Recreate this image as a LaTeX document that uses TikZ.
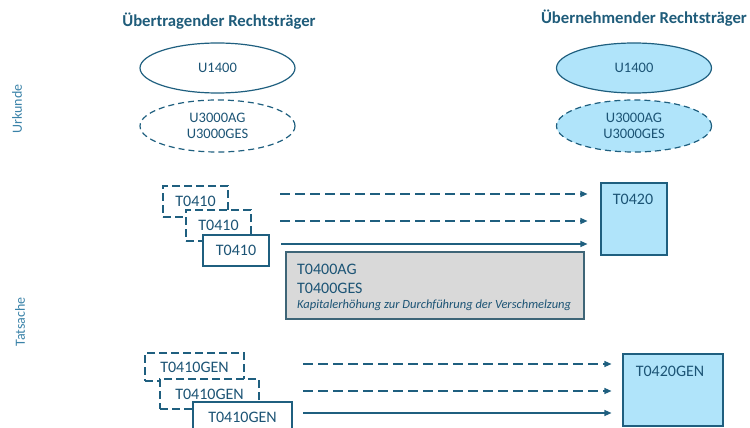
\documentclass[tikz,border=0pt]{standalone}
\usepackage{fontspec}
\setmainfont{Carlito}
\usetikzlibrary{shapes.geometric,arrows.meta}
\definecolor{ln}{HTML}{1F5F7F}
\definecolor{txt}{HTML}{1C5475}
\definecolor{ttl}{HTML}{1F5C7A}
\definecolor{side}{HTML}{3A82A8}
\definecolor{lb}{HTML}{B0E4FA}
\definecolor{gr}{HTML}{D9D9D9}
\definecolor{gb}{HTML}{3E6577}
\begin{document}
\begin{tikzpicture}[x=1pt,y=-1pt,
  every node/.style={text=txt, font=\fontsize{16}{17}\selectfont},
  ell/.style={ellipse, draw=ln, line width=1.2pt, minimum width=155pt, minimum height=50pt, inner sep=0pt, align=center, font=\fontsize{14.5}{15.5}\selectfont},
  edsh/.style={dash pattern=on 6pt off 4pt},
  bdsh/.style={dash pattern=on 8pt off 4pt},
  tbox/.style={rectangle, draw=ln, line width=1.1pt, fill=white, inner sep=0pt},
  lbl/.style={inner sep=0pt, anchor=base},
  arr/.style={draw=ln, line width=1.2pt, -{Triangle[length=7pt,width=6pt]}},
  darr/.style={arr, dash pattern=on 10pt off 5pt},
  sidelbl/.style={rotate=90, text=side, font=\fontsize{14}{16}\selectfont},
  title/.style={text=ttl, font=\bfseries\fontsize{16.7}{19}\selectfont}
]
\useasboundingbox (0,0) rectangle (750,428);
\clip (0,0) rectangle (750,428);

% titles and side labels
\node[title] (t1) at (219,21) {Übertragender Rechtsträger};
\node[title] (t2) at (644,18) {Übernehmender Rechtsträger};
\node[sidelbl] (urk) at (17,109) {Urkunde};
\node[sidelbl] (tat) at (20,322) {Tatsache};

% Urkunde ellipses
\node[ell] (u1) at (217.5,68) {U1400};
\node[ell, edsh, minimum height=52pt] (u2) at (217.5,126) {U3000AG\\U3000GES};
\node[ell, fill=lb] (u3) at (634,68) {U1400};
\node[ell, fill=lb, edsh, minimum height=52pt] (u4) at (634,126) {U3000AG\\U3000GES};

% T0410 stack
\node[tbox, bdsh, minimum width=65pt, minimum height=31pt] (a1) at (195.5,201.5) {T0410};
\node[tbox, bdsh, minimum width=65pt, minimum height=31pt] (a2) at (218.5,225.5) {T0410};
\node[tbox, minimum width=66pt, minimum height=31pt] (a3) at (236,250.5) {T0410};

% T0420 target
\node[tbox, fill=lb, minimum width=66pt, minimum height=72pt] (r1) at (634,219) {};
\node[lbl] (r1t) at (633,204) {T0420};

% gray box
\node[tbox, fill=gr, draw=gb, minimum width=298pt, minimum height=67pt] (g) at (435,285.5) {};
\node[lbl, anchor=base west] (g1) at (297,274) {T0400AG};
\node[lbl, anchor=base west] (g2) at (297,293) {T0400GES};
\node[lbl, anchor=base west, font=\itshape\fontsize{12.5}{14}\selectfont] (g3) at (297,308) {Kapitalerhöhung zur Durchführung der Verschmelzung};

% arrows upper
\coordinate (s1) at (280,194);
\coordinate (s2) at (280,221);
\coordinate (s3) at (281,244);
\draw[darr] (s1) -- ([xshift=-13pt]s1 -| r1.west);
\draw[darr] (s2) -- ([xshift=-13pt]s2 -| r1.west);
\draw[arr] (s3) -- ([xshift=-13pt]s3 -| r1.west);

% T0410GEN stack
\node[tbox, bdsh, minimum width=99pt, minimum height=28pt] (b1) at (194.5,367) {T0410GEN};
\node[tbox, bdsh, minimum width=99pt, minimum height=30pt] (b2) at (209.5,394) {T0410GEN};
\node[tbox, minimum width=99pt, minimum height=30pt] (b3) at (242.5,417) {T0410GEN};

% T0420GEN target
\node[tbox, fill=lb, minimum width=100pt, minimum height=72pt] (r2) at (673,390) {};
\node[lbl] (r2t) at (670,376) {T0420GEN};

% arrows lower
\coordinate (q1) at (303,364);
\coordinate (q2) at (303,391);
\coordinate (q3) at (303,413);
\draw[darr] (q1) -- ([xshift=-11pt]q1 -| r2.west);
\draw[darr] (q2) -- ([xshift=-11pt]q2 -| r2.west);
\draw[arr] (q3) -- ([xshift=-11pt]q3 -| r2.west);
\end{tikzpicture}
\end{document}
